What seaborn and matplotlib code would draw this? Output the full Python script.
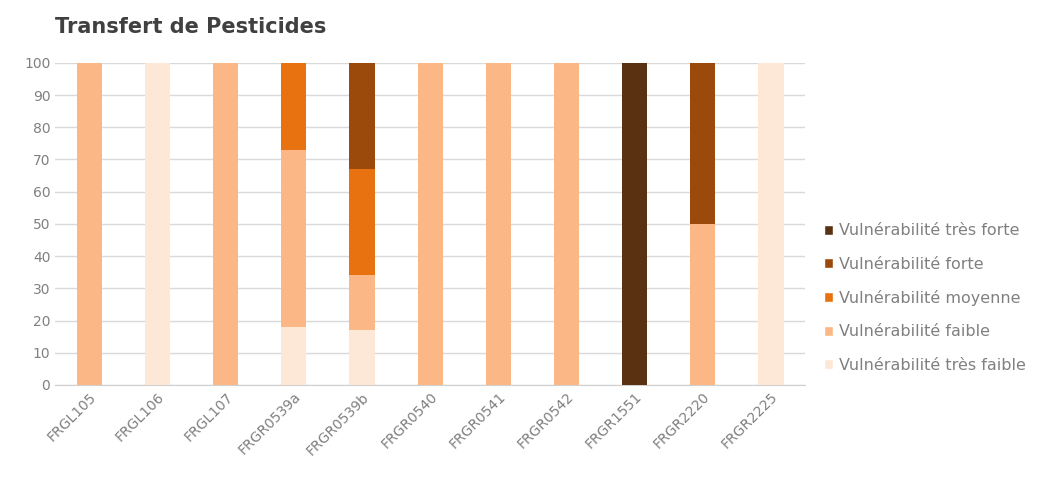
import numpy as np
import pandas as pd
import matplotlib
matplotlib.use('Agg')
import matplotlib.pyplot as plt
import seaborn as sns
from matplotlib.patches import Patch

sns.set_style("white")
plt.rcParams['font.family'] = ['DejaVu Sans']

# --- data (percent of each water body per vulnerability class) ---
stations = ['FRGL105', 'FRGL106', 'FRGL107', 'FRGR0539a', 'FRGR0539b', 'FRGR0540',
            'FRGR0541', 'FRGR0542', 'FRGR1551', 'FRGR2220', 'FRGR2225']
tres_faible = [0, 100, 0, 18, 17, 0, 0, 0, 0, 0, 100]
faible      = [100, 0, 100, 55, 17, 100, 100, 100, 0, 50, 0]
moyenne     = [0, 0, 0, 27, 33, 0, 0, 0, 0, 0, 0]
forte       = [0, 0, 0, 0, 33, 0, 0, 0, 0, 50, 0]
tres_forte  = [0, 0, 0, 0, 0, 0, 0, 0, 100, 0, 0]

classes = ['Vulnérabilité très faible', 'Vulnérabilité faible', 'Vulnérabilité moyenne',
           'Vulnérabilité forte', 'Vulnérabilité très forte']
colors = ['#fde8d8', '#fbb886', '#e8720f', '#9b4a0b', '#5a3212']

df = pd.DataFrame({'station': stations, classes[0]: tres_faible, classes[1]: faible,
                   classes[2]: moyenne, classes[3]: forte, classes[4]: tres_forte})
cum = df[classes].cumsum(axis=1)

fig = plt.figure(figsize=(10.62, 4.91), dpi=100)
ax = fig.add_axes([0.052, 0.216, 0.706, 0.656])

# stacked bars: draw the tallest cumulative layer first, then overlay
for cls, col in zip(reversed(classes), reversed(colors)):
    sns.barplot(x=df['station'], y=cum[cls], color=col, width=0.37,
                saturation=1, linewidth=0, ax=ax, zorder=3)

ax.set_ylim(0, 100)
ax.set_xlim(-0.5, len(stations) - 0.5)
ax.set_yticks(range(0, 101, 10))
ax.yaxis.grid(True, color='#d9d9d9', linewidth=1, zorder=0)
ax.set_axisbelow(True)
ax.set_xlabel('')
ax.set_ylabel('')
for s in ['top', 'right', 'left']:
    ax.spines[s].set_visible(False)
ax.spines['bottom'].set_color('#d0d0d0')
ax.tick_params(axis='both', length=0, colors='#808080', labelsize=10)
plt.setp(ax.get_xticklabels(), rotation=45, ha='right', rotation_mode='anchor')

handles = [Patch(facecolor=c, label=l) for l, c in zip(reversed(classes), reversed(colors))]
fig.legend(handles=handles, loc='center left', bbox_to_anchor=(0.762, 0.393),
           frameon=False, fontsize=11.5, handlelength=0.6, handleheight=0.6,
           handletextpad=0.35, labelspacing=1.15, labelcolor='#808080')

fig.text(0.052, 0.945, 'Transfert de Pesticides', fontsize=15, color='#404040',
         fontweight='bold', va='center')

plt.savefig('out.png', dpi=100)
